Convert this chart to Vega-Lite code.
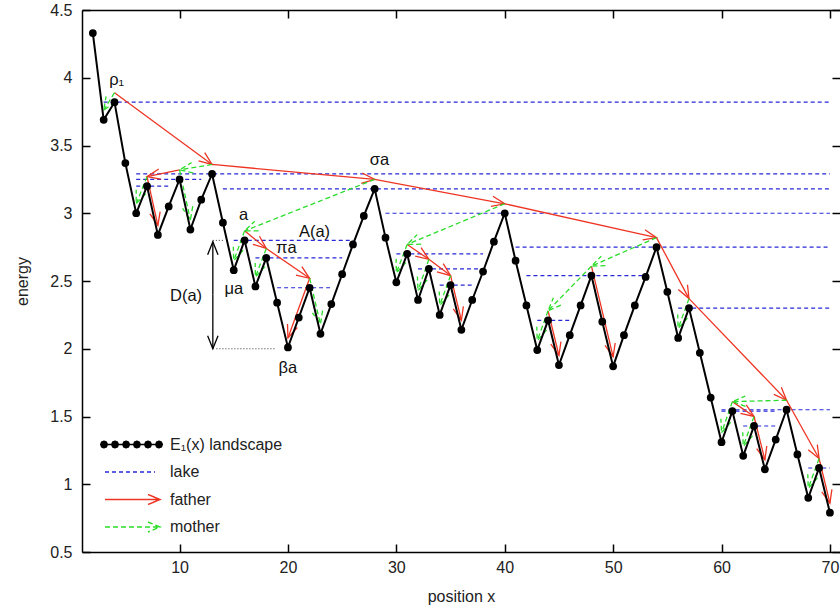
{
  "$schema": "https://vega.github.io/schema/vega-lite/v6.json",
  "width": 758,
  "height": 542,
  "autosize": {"type": "none"},
  "padding": {"left": 82, "top": 10, "right": 0, "bottom": 55},
  "background": "white",
  "config": {
    "font": "Liberation Sans",
    "view": {"stroke": null},
    "axis": {
      "domainColor": "black", "domainWidth": 1.5,
      "tickColor": "black", "tickWidth": 1.5, "tickSize": -8,
      "labelColor": "#222", "labelFontSize": 16, "labelFont": "Liberation Sans",
      "titleColor": "#222", "titleFontSize": 16, "titleFontWeight": "normal", "titleFont": "Liberation Sans",
      "grid": false
    }
  },
  "datasets": {
    "landscape": [
      {"x": 2, "y": 4.33}, {"x": 3, "y": 3.69}, {"x": 4, "y": 3.82}, {"x": 5, "y": 3.37}, {"x": 6, "y": 3.0},
      {"x": 7, "y": 3.2}, {"x": 8, "y": 2.84}, {"x": 9, "y": 3.05}, {"x": 10, "y": 3.25}, {"x": 11, "y": 2.88},
      {"x": 12, "y": 3.1}, {"x": 13, "y": 3.29}, {"x": 14, "y": 2.93}, {"x": 15, "y": 2.58}, {"x": 16, "y": 2.8},
      {"x": 17, "y": 2.46}, {"x": 18, "y": 2.67}, {"x": 19, "y": 2.34}, {"x": 20, "y": 2.01}, {"x": 21, "y": 2.23},
      {"x": 22, "y": 2.45}, {"x": 23, "y": 2.11}, {"x": 24, "y": 2.33}, {"x": 25, "y": 2.55}, {"x": 26, "y": 2.77},
      {"x": 27, "y": 2.98}, {"x": 28, "y": 3.18}, {"x": 29, "y": 2.82}, {"x": 30, "y": 2.49}, {"x": 31, "y": 2.7},
      {"x": 32, "y": 2.36}, {"x": 33, "y": 2.59}, {"x": 34, "y": 2.25}, {"x": 35, "y": 2.47}, {"x": 36, "y": 2.14},
      {"x": 37, "y": 2.36}, {"x": 38, "y": 2.57}, {"x": 39, "y": 2.79}, {"x": 40, "y": 3.0}, {"x": 41, "y": 2.65},
      {"x": 42, "y": 2.32}, {"x": 43, "y": 1.99}, {"x": 44, "y": 2.21}, {"x": 45, "y": 1.88}, {"x": 46, "y": 2.1},
      {"x": 47, "y": 2.32}, {"x": 48, "y": 2.54}, {"x": 49, "y": 2.2}, {"x": 50, "y": 1.87}, {"x": 51, "y": 2.1},
      {"x": 52, "y": 2.32}, {"x": 53, "y": 2.53}, {"x": 54, "y": 2.75}, {"x": 55, "y": 2.42}, {"x": 56, "y": 2.08},
      {"x": 57, "y": 2.3}, {"x": 58, "y": 1.97}, {"x": 59, "y": 1.64}, {"x": 60, "y": 1.31}, {"x": 61, "y": 1.54},
      {"x": 62, "y": 1.21}, {"x": 63, "y": 1.43}, {"x": 64, "y": 1.11}, {"x": 65, "y": 1.33}, {"x": 66, "y": 1.55},
      {"x": 67, "y": 1.22}, {"x": 68, "y": 0.9}, {"x": 69, "y": 1.12}, {"x": 70, "y": 0.79}
    ],
    "lakes": [
      {"y": 3.82, "x1": 3, "x2": 70}, {"y": 3.29, "x1": 6, "x2": 70}, {"y": 3.25, "x1": 6, "x2": 12},
      {"y": 3.2, "x1": 6, "x2": 9}, {"y": 3.18, "x1": 14, "x2": 70}, {"y": 3.0, "x1": 29, "x2": 70},
      {"y": 2.8, "x1": 15, "x2": 26}, {"y": 2.67, "x1": 17, "x2": 25}, {"y": 2.45, "x1": 19, "x2": 24},
      {"y": 2.7, "x1": 30, "x2": 38}, {"y": 2.59, "x1": 32, "x2": 38}, {"y": 2.47, "x1": 34, "x2": 37},
      {"y": 2.75, "x1": 41, "x2": 70}, {"y": 2.54, "x1": 42, "x2": 53}, {"y": 2.21, "x1": 43, "x2": 46},
      {"y": 2.3, "x1": 56, "x2": 70}, {"y": 1.55, "x1": 60, "x2": 70}, {"y": 1.54, "x1": 60, "x2": 65},
      {"y": 1.43, "x1": 62, "x2": 65}, {"y": 1.12, "x1": 68, "x2": 70}
    ],
    "arrows": [
      {"kind": "father", "x1": 4, "y1": 3.89, "x2": 13, "y2": 3.36},
      {"kind": "father", "x1": 13, "y1": 3.36, "x2": 28, "y2": 3.25},
      {"kind": "father", "x1": 28, "y1": 3.25, "x2": 40, "y2": 3.07},
      {"kind": "father", "x1": 40, "y1": 3.07, "x2": 54, "y2": 2.82},
      {"kind": "father", "x1": 54, "y1": 2.82, "x2": 57, "y2": 2.37},
      {"kind": "father", "x1": 57, "y1": 2.37, "x2": 66, "y2": 1.62},
      {"kind": "father", "x1": 66, "y1": 1.62, "x2": 69, "y2": 1.19},
      {"kind": "father", "x1": 69, "y1": 1.19, "x2": 70, "y2": 0.86},
      {"kind": "father", "x1": 10, "y1": 3.32, "x2": 7, "y2": 3.27},
      {"kind": "father", "x1": 7, "y1": 3.27, "x2": 8, "y2": 2.91},
      {"kind": "father", "x1": 16, "y1": 2.87, "x2": 18, "y2": 2.74},
      {"kind": "father", "x1": 18, "y1": 2.74, "x2": 22, "y2": 2.52},
      {"kind": "father", "x1": 22, "y1": 2.52, "x2": 20, "y2": 2.08},
      {"kind": "father", "x1": 31, "y1": 2.77, "x2": 33, "y2": 2.66},
      {"kind": "father", "x1": 33, "y1": 2.66, "x2": 35, "y2": 2.54},
      {"kind": "father", "x1": 35, "y1": 2.54, "x2": 36, "y2": 2.21},
      {"kind": "father", "x1": 48, "y1": 2.61, "x2": 50, "y2": 1.94},
      {"kind": "father", "x1": 44, "y1": 2.28, "x2": 45, "y2": 1.95},
      {"kind": "father", "x1": 61, "y1": 1.61, "x2": 63, "y2": 1.5},
      {"kind": "father", "x1": 63, "y1": 1.5, "x2": 64, "y2": 1.18},
      {"kind": "mother", "x1": 4, "y1": 3.89, "x2": 3, "y2": 3.76},
      {"kind": "mother", "x1": 13, "y1": 3.36, "x2": 10, "y2": 3.32},
      {"kind": "mother", "x1": 10, "y1": 3.32, "x2": 11, "y2": 2.95},
      {"kind": "mother", "x1": 7, "y1": 3.27, "x2": 6, "y2": 3.07},
      {"kind": "mother", "x1": 28, "y1": 3.25, "x2": 16, "y2": 2.87},
      {"kind": "mother", "x1": 16, "y1": 2.87, "x2": 15, "y2": 2.65},
      {"kind": "mother", "x1": 18, "y1": 2.74, "x2": 17, "y2": 2.53},
      {"kind": "mother", "x1": 22, "y1": 2.52, "x2": 23, "y2": 2.18},
      {"kind": "mother", "x1": 40, "y1": 3.07, "x2": 31, "y2": 2.77},
      {"kind": "mother", "x1": 31, "y1": 2.77, "x2": 30, "y2": 2.56},
      {"kind": "mother", "x1": 33, "y1": 2.66, "x2": 32, "y2": 2.43},
      {"kind": "mother", "x1": 35, "y1": 2.54, "x2": 34, "y2": 2.32},
      {"kind": "mother", "x1": 54, "y1": 2.82, "x2": 48, "y2": 2.61},
      {"kind": "mother", "x1": 48, "y1": 2.61, "x2": 44, "y2": 2.28},
      {"kind": "mother", "x1": 44, "y1": 2.28, "x2": 43, "y2": 2.06},
      {"kind": "mother", "x1": 57, "y1": 2.37, "x2": 56, "y2": 2.15},
      {"kind": "mother", "x1": 66, "y1": 1.62, "x2": 61, "y2": 1.61},
      {"kind": "mother", "x1": 61, "y1": 1.61, "x2": 60, "y2": 1.38},
      {"kind": "mother", "x1": 63, "y1": 1.5, "x2": 62, "y2": 1.28},
      {"kind": "mother", "x1": 69, "y1": 1.19, "x2": 68, "y2": 0.97},
      {"kind": "D", "x1": 13.07, "y1": 2.4, "x2": 13.07, "y2": 2.79},
      {"kind": "D", "x1": 13.07, "y1": 2.4, "x2": 13.07, "y2": 2.0}
    ],
    "guides": [
      {"x1": 13.07, "x2": 14.0, "y": 2.8},
      {"x1": 13.4, "x2": 18.9, "y": 2.0}
    ],
    "notes": [
      {"t": "ρ₁", "x": 4.2, "y": 3.98},
      {"t": "σa", "x": 28.45, "y": 3.39},
      {"t": "A(a)", "x": 22.45, "y": 2.86},
      {"t": "a", "x": 15.9, "y": 2.99},
      {"t": "πa", "x": 19.85, "y": 2.74},
      {"t": "μa", "x": 15.0, "y": 2.44},
      {"t": "D(a)", "x": 10.6, "y": 2.39},
      {"t": "βa", "x": 20.0, "y": 1.86}
    ],
    "key": [
      {"s": "E₁(x) landscape"}, {"s": "lake"}, {"s": "father"}, {"s": "mother"}
    ]
  },
  "layer": [
    {
      "data": {"name": "lakes"},
      "mark": {"type": "rule", "strokeDash": [4, 3], "strokeWidth": 1.2, "color": "#2828d8"},
      "encoding": {
        "x": {"field": "x1", "type": "quantitative",
          "scale": {"domain": [1, 70.93], "zero": false, "nice": false},
          "axis": {"title": "position x", "values": [10, 20, 30, 40, 50, 60, 70], "labelPadding": 15, "titlePadding": 13}},
        "x2": {"field": "x2"},
        "y": {"field": "y", "type": "quantitative",
          "scale": {"domain": [0.5, 4.5], "zero": false, "nice": false},
          "axis": {"title": "energy", "values": [0.5, 1, 1.5, 2, 2.5, 3, 3.5, 4, 4.5], "format": "~g", "labelPadding": 18, "titlePadding": 19}}
      }
    },
    {
      "data": {"name": "guides"},
      "mark": {"type": "rule", "strokeDash": [1, 2], "strokeWidth": 1, "color": "#333333"},
      "encoding": {
        "x": {"field": "x1", "type": "quantitative",
          "axis": {"orient": "top", "labels": false, "title": null, "domain": true, "values": [10, 20, 30, 40, 50, 60, 70]}},
        "x2": {"field": "x2"},
        "y": {"field": "y", "type": "quantitative",
          "axis": {"orient": "right", "labels": false, "title": null, "domain": false, "values": [0.5, 1, 1.5, 2, 2.5, 3, 3.5, 4, 4.5]}}
      }
    },
    {
      "data": {"name": "arrows"},
      "transform": [{"filter": "datum.kind === 'father'"}],
      "mark": {"type": "rule", "strokeWidth": 1.3, "color": "#ee3524"},
      "encoding": {
        "x": {"field": "x1", "type": "quantitative", "axis": null},
        "y": {"field": "y1", "type": "quantitative", "axis": null},
        "x2": {"field": "x2"},
        "y2": {"field": "y2"}
      }
    },
    {
      "data": {"name": "arrows"},
      "transform": [{"filter": "datum.kind === 'father'"}],
      "mark": {"type": "point", "shape": "M-1,-0.4L0,0L-1,0.4", "size": 676, "filled": false, "strokeWidth": 1.3, "opacity": 1, "color": "#ee3524",
        "angle": {"expr": "atan2(scale('y', datum.y2) - scale('y', datum.y1), scale('x', datum.x2) - scale('x', datum.x1)) * 180 / PI"}},
      "encoding": {
        "x": {"field": "x2", "type": "quantitative", "axis": null},
        "y": {"field": "y2", "type": "quantitative", "axis": null}
      }
    },
    {
      "data": {"name": "arrows"},
      "transform": [{"filter": "datum.kind === 'mother'"}],
      "mark": {"type": "rule", "strokeWidth": 1.3, "color": "#2bdc2b", "strokeDash": [5, 3]},
      "encoding": {
        "x": {"field": "x1", "type": "quantitative", "axis": null},
        "y": {"field": "y1", "type": "quantitative", "axis": null},
        "x2": {"field": "x2"},
        "y2": {"field": "y2"}
      }
    },
    {
      "data": {"name": "arrows"},
      "transform": [{"filter": "datum.kind === 'mother'"}],
      "mark": {"type": "point", "shape": "M-1,-0.4L0,0L-1,0.4", "size": 676, "filled": false, "strokeWidth": 1.3, "opacity": 1, "color": "#2bdc2b", "strokeDash": [5, 3],
        "angle": {"expr": "atan2(scale('y', datum.y2) - scale('y', datum.y1), scale('x', datum.x2) - scale('x', datum.x1)) * 180 / PI"}},
      "encoding": {
        "x": {"field": "x2", "type": "quantitative", "axis": null},
        "y": {"field": "y2", "type": "quantitative", "axis": null}
      }
    },
    {
      "data": {"name": "arrows"},
      "transform": [{"filter": "datum.kind === 'D'"}],
      "mark": {"type": "rule", "strokeWidth": 1.3, "color": "#000000"},
      "encoding": {
        "x": {"field": "x1", "type": "quantitative", "axis": null},
        "y": {"field": "y1", "type": "quantitative", "axis": null},
        "x2": {"field": "x2"},
        "y2": {"field": "y2"}
      }
    },
    {
      "data": {"name": "arrows"},
      "transform": [{"filter": "datum.kind === 'D'"}],
      "mark": {"type": "point", "shape": "M-1,-0.4L0,0L-1,0.4", "size": 676, "filled": false, "strokeWidth": 1.3, "opacity": 1, "color": "#000000",
        "angle": {"expr": "atan2(scale('y', datum.y2) - scale('y', datum.y1), scale('x', datum.x2) - scale('x', datum.x1)) * 180 / PI"}},
      "encoding": {
        "x": {"field": "x2", "type": "quantitative", "axis": null},
        "y": {"field": "y2", "type": "quantitative", "axis": null}
      }
    },
    {
      "data": {"name": "landscape"},
      "mark": {"type": "line", "strokeWidth": 2, "color": "#000000"},
      "encoding": {
        "x": {"field": "x", "type": "quantitative", "axis": null},
        "y": {"field": "y", "type": "quantitative", "axis": null}
      }
    },
    {
      "data": {"name": "landscape"},
      "mark": {"type": "point", "filled": true, "size": 60, "opacity": 1, "color": "#000000"},
      "encoding": {
        "x": {"field": "x", "type": "quantitative", "axis": null},
        "y": {"field": "y", "type": "quantitative", "axis": null}
      }
    },
    {
      "data": {"name": "notes"},
      "mark": {"type": "text", "fontSize": 16.5, "font": "Liberation Sans", "color": "#111111"},
      "encoding": {
        "x": {"field": "x", "type": "quantitative", "axis": null},
        "y": {"field": "y", "type": "quantitative", "axis": null},
        "text": {"field": "t"}
      }
    },
    {
      "data": {"name": "key"},
      "mark": {"type": "point", "filled": false, "opacity": 0, "strokeWidth": 1.5},
      "encoding": {
        "shape": {"field": "s", "type": "nominal",
          "scale": {"domain": ["E₁(x) landscape", "lake", "father", "mother"],
            "range": [
              "M-2.037,0L2.037,0M-1.793,0L-1.864,0.173L-2.037,0.244L-2.21,0.173L-2.281,0L-2.21,-0.173L-2.037,-0.244L-1.864,-0.173ZM-0.978,0L-1.049,0.173L-1.222,0.244L-1.395,0.173L-1.466,0L-1.395,-0.173L-1.222,-0.244L-1.049,-0.173ZM-0.156,0L-0.227,0.173L-0.4,0.244L-0.573,0.173L-0.644,0L-0.573,-0.173L-0.4,-0.244L-0.227,-0.173ZM0.644,0L0.573,0.173L0.4,0.244L0.227,0.173L0.156,0L0.227,-0.173L0.4,-0.244L0.573,-0.173ZM1.466,0L1.395,0.173L1.222,0.244L1.049,0.173L0.978,0L1.049,-0.173L1.222,-0.244L1.395,-0.173ZM2.281,0L2.21,0.173L2.037,0.244L1.864,0.173L1.793,0L1.864,-0.173L2.037,-0.244L2.21,-0.173Z",
              "M-1.963,0L1.741,0",
              "M-1.963,0L2.111,0M1.222,-0.37L2.111,0L1.222,0.37",
              "M-1.963,0L2.111,0M1.222,-0.37L2.111,0L1.222,0.37"
            ]},
          "legend": {"orient": "none", "legendX": 35, "legendY": 420, "title": null,
            "symbolSize": 729, "symbolOffset": 0, "labelOffset": 24, "rowPadding": 4.5,
            "symbolStrokeWidth": 1.5, "symbolOpacity": 1,
            "labelFontSize": 16, "labelColor": "#222", "labelFont": "Liberation Sans", "labelLimit": 300}},
        "stroke": {"field": "s", "type": "nominal",
          "scale": {"domain": ["E₁(x) landscape", "lake", "father", "mother"], "range": ["#000000", "#2828d8", "#ee3524", "#2bdc2b"]},
          "legend": {"orient": "none", "legendX": 35, "legendY": 420, "title": null,
            "symbolSize": 729, "symbolOffset": 0, "labelOffset": 24, "rowPadding": 4.5,
            "symbolStrokeWidth": 1.5, "symbolOpacity": 1,
            "labelFontSize": 16, "labelColor": "#222", "labelFont": "Liberation Sans", "labelLimit": 300}},
        "fill": {"field": "s", "type": "nominal",
          "scale": {"domain": ["E₁(x) landscape", "lake", "father", "mother"], "range": ["#000000", "transparent", "transparent", "transparent"]},
          "legend": {"orient": "none", "legendX": 35, "legendY": 420, "title": null,
            "symbolSize": 729, "symbolOffset": 0, "labelOffset": 24, "rowPadding": 4.5,
            "symbolStrokeWidth": 1.5, "symbolOpacity": 1,
            "labelFontSize": 16, "labelColor": "#222", "labelFont": "Liberation Sans", "labelLimit": 300}},
        "strokeDash": {"field": "s", "type": "nominal",
          "scale": {"domain": ["E₁(x) landscape", "lake", "father", "mother"], "range": [[1, 0], [4, 3], [1, 0], [5, 3]]},
          "legend": {"orient": "none", "legendX": 35, "legendY": 420, "title": null,
            "symbolSize": 729, "symbolOffset": 0, "labelOffset": 24, "rowPadding": 4.5,
            "symbolStrokeWidth": 1.5, "symbolOpacity": 1,
            "labelFontSize": 16, "labelColor": "#222", "labelFont": "Liberation Sans", "labelLimit": 300}}
      }
    }
  ],
  "resolve": {"axis": {"x": "independent", "y": "independent"}}
}
